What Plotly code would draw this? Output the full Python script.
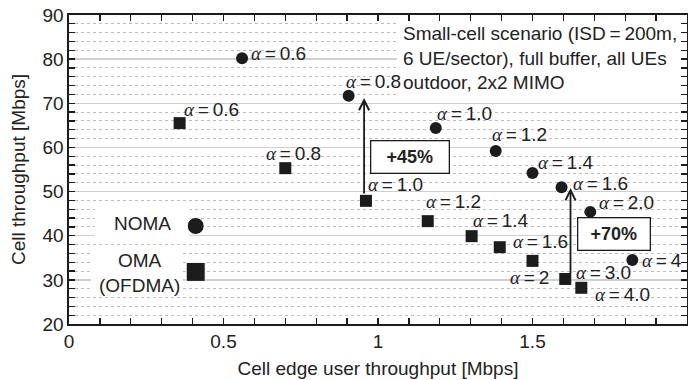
import plotly.graph_objects as go

# ---------------- data ----------------
noma_alpha = ["0.6", "0.8", "1.0", "1.2", "1.4", "1.6", "2.0", "4"]
noma_edge = [0.56, 0.905, 1.187, 1.381, 1.50, 1.594, 1.687, 1.823]
noma_cell = [80.2, 71.7, 64.4, 59.2, 54.2, 51.0, 45.4, 34.5]

oma_alpha = ["0.6", "0.8", "1.0", "1.2", "1.4", "1.6", "2", "3.0", "4.0"]
oma_edge = [0.358, 0.70, 0.961, 1.161, 1.303, 1.394, 1.50, 1.606, 1.658]
oma_cell = [65.5, 55.3, 47.9, 43.3, 39.9, 37.4, 34.3, 30.2, 28.2]

legend_x = [0.41, 0.41]
legend_y = [42.2, 31.8]
legend_names = ["NOMA", "OMA<br>(OFDMA)"]

gain_labels = ["+45%", "+70%"]
gain_arrow_x = [0.955, 1.623]
gain_arrow_from = [49.2, 31.1]
gain_arrow_to = [71.2, 50.8]
gain_box_x = [1.105, 1.763]
gain_box_y = [57.9, 40.5]

x_ticks = [0, 0.5, 1, 1.5, 2]
x_tick_text = ["0", "0.5", "1", "1.5", "2"]
y_ticks = [20, 30, 40, 50, 60, 70, 80, 90]

scenario_text = ("Small-cell scenario (ISD\u2009=\u2009200m,<br>"
                 "6 UE/sector), full buffer, all UEs<br>"
                 "outdoor, 2x2 MIMO")

# ---------------- style ----------------
FONT = "Liberation Sans, Arial, Helvetica, sans-serif"
FS = 19
INK = "#1c1c1c"
TXT = "#222222"

# label offsets (pixels) relative to each point: (xanchor, xshift, yshift)
noma_lab = [("left", 7, 5), ("left", -5, 14), ("left", -1, 15), ("left", -6, 16),
            ("left", 3, 11), ("left", 9, 4), ("left", 7, 9), ("left", 8, -1)]
oma_lab = [("left", 2, 14), ("left", -21, 15), ("left", 0, 16), ("left", -4, 20),
           ("left", -1, 16), ("left", 11, 6), ("right", 18, -17), ("left", 9, 6),
           ("left", 12, -7)]


def alpha_text(v):
    return ('<span style="font-family:Liberation Serif, Times New Roman, serif">'
            '<i>α</i></span>\u2009=\u2009' + v)


fig = go.Figure()

fig.add_trace(go.Scatter(x=noma_edge, y=noma_cell, mode="markers",
                         marker=dict(symbol="circle", size=12, color=INK, opacity=1),
                         hoverinfo="skip", showlegend=False))
fig.add_trace(go.Scatter(x=oma_edge, y=oma_cell, mode="markers",
                         marker=dict(symbol="square", size=12, color=INK, opacity=1),
                         hoverinfo="skip", showlegend=False))
fig.add_trace(go.Scatter(x=legend_x, y=legend_y, mode="markers",
                         marker=dict(symbol=["circle", "square"], size=[17, 19],
                                     color=INK, opacity=1),
                         hoverinfo="skip", showlegend=False))

ann = []
for v, x, y, (xa, xs, ys) in zip(noma_alpha, noma_edge, noma_cell, noma_lab):
    ann.append(dict(x=x, y=y, text=alpha_text(v), showarrow=False, xanchor=xa,
                    yanchor="middle", xshift=xs, yshift=ys,
                    font=dict(size=FS, color=TXT)))
for v, x, y, (xa, xs, ys) in zip(oma_alpha, oma_edge, oma_cell, oma_lab):
    ann.append(dict(x=x, y=y, text=alpha_text(v), showarrow=False, xanchor=xa,
                    yanchor="middle", xshift=xs, yshift=ys,
                    font=dict(size=FS, color=TXT)))

# legend texts
ann.append(dict(x=legend_x[0], y=legend_y[0], text=legend_names[0], showarrow=False,
                xanchor="right", yanchor="middle", xshift=-23, yshift=3,
                font=dict(size=FS, color=TXT)))
ann.append(dict(x=legend_x[1], y=legend_y[1], text=legend_names[1], showarrow=False,
                xanchor="center", yanchor="middle", xshift=-56, yshift=-1,
                align="center", font=dict(size=FS, color=TXT)))

# gain arrows and boxes
for ax_, y0, y1 in zip(gain_arrow_x, gain_arrow_from, gain_arrow_to):
    ann.append(dict(x=ax_, y=y1, ax=ax_, ay=y0, axref="x", ayref="y", text="",
                    showarrow=True, arrowhead=5, arrowsize=1.1, arrowwidth=1.8,
                    arrowcolor=INK))
for lab, bx, by, w in zip(gain_labels, gain_box_x, gain_box_y, [79, 73]):
    ann.append(dict(x=bx, y=by, text="<b>" + lab + "</b>", showarrow=False,
                    xanchor="center", yanchor="middle", width=w - 4, height=29,
                    bgcolor="white", bordercolor=INK, borderwidth=1.3,
                    font=dict(size=FS - 1, color=TXT)))

# scenario text
ann.append(dict(x=1.074, y=80.2, text=scenario_text, showarrow=False,
                xanchor="left", yanchor="middle", align="left",
                font=dict(size=FS, color=TXT)))

shapes = [
    dict(type="rect", xref="x", yref="y", x0=1.061, x1=2.0, y0=71.2, y1=89.4,
         fillcolor="white", line=dict(width=0), layer="between"),
    dict(type="rect", xref="x", yref="y", x0=0.084, x1=0.39, y0=39.0, y1=47.4,
         fillcolor="white", line=dict(width=0), layer="between"),
    dict(type="rect", xref="x", yref="y", x0=0.071, x1=0.368, y0=27.0, y1=37.0,
         fillcolor="white", line=dict(width=0), layer="between"),
]

fig.update_layout(
    width=688, height=380,
    margin=dict(l=69, r=1, t=15, b=56, autoexpand=False),
    paper_bgcolor="white", plot_bgcolor="white",
    font=dict(family=FONT, size=FS, color=TXT),
    annotations=ann, shapes=shapes,
    xaxis=dict(range=[0, 2], tickvals=x_ticks, ticktext=x_tick_text,
               automargin=False,
               ticks="inside", ticklen=6, tickwidth=1.3, tickcolor=INK,
               showgrid=False, zeroline=False, showline=True, linecolor=INK,
               linewidth=1.6, mirror="ticks",
               minor=dict(dtick=0.1, ticks="inside", ticklen=6, tickwidth=1.3,
                          tickcolor=INK, showgrid=False),
               title=dict(text="Cell edge user throughput [Mbps]",
                          font=dict(size=FS), standoff=10),
               tickfont=dict(size=FS)),
    yaxis=dict(range=[20, 90], tickvals=y_ticks, automargin=False,
               ticks="inside", ticklen=6, tickwidth=1.3, tickcolor=INK,
               showgrid=True, gridcolor="#cfcfcf", gridwidth=1.5,
               zeroline=False, showline=True, linecolor=INK,
               linewidth=1.6, mirror="ticks",
               minor=dict(dtick=2, ticks="inside", ticklen=6, tickwidth=1.3,
                          tickcolor=INK, showgrid=True, gridcolor="#bdbdbd",
                          gridwidth=1, griddash="dot"),
               title=dict(text="Cell throughput [Mbps]", font=dict(size=FS),
                          standoff=12),
               tickfont=dict(size=FS)),
)

fig.write_html("out.html",
               config={"displayModeBar": False, "staticPlot": True},
               post_script="document.body.style.margin='0px';"
                           "document.body.style.overflow='hidden';")
